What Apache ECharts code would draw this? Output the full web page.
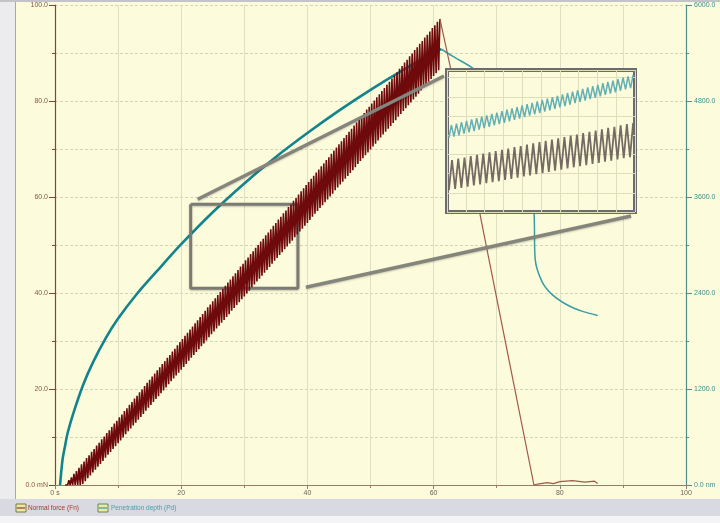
<!DOCTYPE html>
<html>
<head>
<meta charset="utf-8">
<script src="https://cdn.jsdelivr.net/npm/echarts@6/dist/echarts.min.js"></script>
<style>
  html, body { margin: 0; padding: 0; background: #fcfcdc; }
  #chart { width: 720px; height: 523px; }
</style>
</head>
<body>
<div id="chart"></div>
<script>
// Scratch test record: normal force (mN, left axis) and penetration depth (nm, right axis) over time (s)

// Loading phase of the normal force: successive extrema of the oscillating signal
const forceStart = 1.6;   // s, first extremum
const forceStep = 0.2;    // s between extrema
const forceLoading = [
  0, 0.3, 0, 1.0, 0, 1.6, 0, 2.3, 0, 2.9,
  0, 3.6, 0, 4.3, 0.2, 4.9, 0.8, 5.6, 1.4, 6.2,
  2.0, 6.9, 2.6, 7.5, 3.2, 8.2, 3.8, 8.8, 4.4, 9.5,
  5.0, 10.1, 5.7, 10.8, 6.3, 11.4, 6.9, 12.1, 7.5, 12.8,
  8.1, 13.4, 8.7, 14.1, 9.3, 14.7, 9.9, 15.4, 10.6, 16.0,
  11.2, 16.7, 11.8, 17.3, 12.4, 18.0, 13.0, 18.6, 13.6, 19.3,
  14.2, 19.9, 14.8, 20.6, 15.5, 21.3, 16.1, 21.9, 16.7, 22.6,
  17.3, 23.2, 17.9, 23.9, 18.5, 24.5, 19.1, 25.2, 19.7, 25.8,
  20.3, 26.5, 21.0, 27.1, 21.6, 27.8, 22.2, 28.4, 22.8, 29.1,
  23.4, 29.8, 24.0, 30.4, 24.6, 31.1, 25.2, 31.7, 25.9, 32.4,
  26.5, 33.0, 27.1, 33.7, 27.7, 34.3, 28.3, 35.0, 28.9, 35.6,
  29.5, 36.3, 30.1, 37.0, 30.8, 37.6, 31.4, 38.3, 32.0, 38.9,
  32.6, 39.6, 33.2, 40.2, 33.8, 40.9, 34.4, 41.5, 35.0, 42.2,
  35.6, 42.8, 36.3, 43.5, 36.9, 44.1, 37.5, 44.8, 38.1, 45.5,
  38.7, 46.1, 39.3, 46.8, 39.9, 47.4, 40.5, 48.1, 41.2, 48.7,
  41.8, 49.4, 42.4, 50.0, 43.0, 50.7, 43.6, 51.3, 44.2, 52.0,
  44.8, 52.6, 45.4, 53.3, 46.1, 54.0, 46.7, 54.6, 47.3, 55.3,
  47.9, 55.9, 48.5, 56.6, 49.1, 57.2, 49.7, 57.9, 50.3, 58.5,
  50.9, 59.2, 51.6, 59.8, 52.2, 60.5, 52.8, 61.2, 53.4, 61.8,
  54.0, 62.5, 54.6, 63.1, 55.2, 63.8, 55.9, 64.4, 56.5, 65.1,
  57.1, 65.7, 57.7, 66.4, 58.3, 67.0, 58.9, 67.7, 59.5, 68.3,
  60.1, 69.0, 60.7, 69.7, 61.4, 70.3, 62.0, 71.0, 62.6, 71.6,
  63.2, 72.3, 63.8, 72.9, 64.4, 73.6, 65.0, 74.2, 65.6, 74.9,
  66.2, 75.5, 66.9, 76.2, 67.5, 76.8, 68.1, 77.5, 68.7, 78.2,
  69.3, 78.8, 69.9, 79.5, 70.5, 80.1, 71.1, 80.8, 71.8, 81.4,
  72.4, 82.1, 73.0, 82.7, 73.6, 83.4, 74.2, 84.0, 74.8, 84.7,
  75.4, 85.3, 76.0, 86.0, 76.7, 86.7, 77.3, 87.3, 77.9, 88.0,
  78.5, 88.6, 79.1, 89.3, 79.7, 89.9, 80.3, 90.6, 80.9, 91.2,
  81.5, 91.9, 82.2, 92.5, 82.8, 93.2, 83.4, 93.8, 84.0, 94.5,
  84.6, 95.2, 85.2, 95.8, 85.8, 96.5, 86.4, 97.1
];

// Unloading of the normal force: [time s, force mN]
const forceUnloading = [
  [61.0, 97.1], [64.0, 78.9], [68.0, 52.1], [72.0, 25.7], [75.9, 0.0],
  [76.5, 0.2], [78.0, 0.5], [79.0, 0.3], [80.0, 0.7], [82.0, 0.9],
  [84.0, 0.6], [85.5, 0.8], [86.0, 0.3]
];

// Penetration depth during loading: [time s, depth nm]
const depthLoading = [
  [0.8, 0], [1.2, 320], [1.6, 490], [2.0, 650], [3.0, 920], [4.5, 1260],
  [6.0, 1530], [8.0, 1830], [10.0, 2080], [13.0, 2390], [16.0, 2660],
  [20.0, 3010], [25.0, 3410], [30.0, 3770], [35.0, 4100], [40.0, 4400],
  [45.0, 4680], [50.0, 4940], [55.0, 5180], [60.0, 5400], [61.2, 5450]
];

// Penetration depth during unloading and elastic recovery: [time s, depth nm]
const depthUnloading = [
  [61.2, 5450], [63.0, 5360], [66.4, 5200], [70.0, 4950], [73.0, 4550],
  [75.0, 3950], [75.9, 3420], [76.1, 2820], [77.2, 2540], [78.8, 2380],
  [81.2, 2250], [83.6, 2170], [86.0, 2120]
];

// Window magnified in the detail view: time span (s) and force span (mN)
const zoomTime = [21.5, 38.5];
const zoomForce = [41.0, 58.5];

// Detail view signals (relative units): alternating minima and maxima
const insetStart = 0.1;
const insetForce = [
  1.14, 2.71, 1.20, 2.78, 1.26, 2.84, 1.32, 2.91, 1.38, 2.98,
  1.44, 3.04, 1.50, 3.11, 1.56, 3.18, 1.61, 3.24, 1.67, 3.31,
  1.73, 3.38, 1.79, 3.44, 1.85, 3.51, 1.91, 3.58, 1.97, 3.64,
  2.03, 3.71, 2.09, 3.78, 2.15, 3.84, 2.21, 3.91, 2.27, 3.98,
  2.33, 4.04, 2.39, 4.11, 2.44, 4.18, 2.50, 4.24, 2.56, 4.31,
  2.62, 4.38, 2.68, 4.44, 2.74, 4.51, 2.80, 4.58, 2.86, 4.64
];
const insetDepth = [
  3.86, 4.53, 3.93, 4.60, 4.00, 4.68, 4.08, 4.75, 4.15, 4.82,
  4.22, 4.89, 4.29, 4.97, 4.37, 5.04, 4.44, 5.11, 4.51, 5.18,
  4.58, 5.26, 4.65, 5.33, 4.73, 5.40, 4.80, 5.47, 4.87, 5.55,
  4.94, 5.62, 5.02, 5.69, 5.09, 5.76, 5.16, 5.84, 5.23, 5.91,
  5.30, 5.98, 5.38, 6.05, 5.45, 6.13, 5.52, 6.20, 5.59, 6.27,
  5.67, 6.34, 5.74, 6.42, 5.81, 6.49, 5.88, 6.56, 5.95, 6.63,
  6.03, 6.71, 6.10, 6.78, 6.17, 6.85, 6.24, 6.92, 6.32, 7.00,
  6.39, 7.07, 6.46, 7.14
];
const insetSpan = 9.8;

// Tick labels
const timeTickLabels = ['0 s', '20', '40', '60', '80', '100'];
const forceTickLabels = ['0.0 mN', '20.0', '40.0', '60.0', '80.0', '100.0'];
const depthTickLabels = ['0.0 nm', '1200.0', '2400.0', '3600.0', '4800.0', '6000.0'];

// Legend entries
const legendNames = ['Normal force (Fn)', 'Penetration depth (Pd)'];

const FONT = '"Liberation Sans", Arial, sans-serif';
const chart = echarts.init(document.getElementById('chart'));

const forcePoints = forceLoading.map((v, i) => [+(forceStart + i * forceStep).toFixed(2), v]);
const insetForcePts = insetForce.map((v, i) => [insetStart + i * insetSpan / (insetForce.length - 1), v]);
const insetDepthPts = insetDepth.map((v, i) => [insetStart + i * insetSpan / (insetDepth.length - 1), v]);
const windowPath = [
  [zoomTime[0], zoomForce[1]], [zoomTime[1], zoomForce[1]],
  [zoomTime[1], zoomForce[0]], [zoomTime[0], zoomForce[0]],
  [zoomTime[0], zoomForce[1]]
];

const option = {
  animation: false,
  backgroundColor: '#fcfcdc',
  grid: [
    { left: 55, top: 5, width: 631, height: 480 },
    { left: 447, top: 70, width: 188, height: 142, show: true,
      backgroundColor: '#fcfcdc', borderColor: '#6c6c6c', borderWidth: 4, zlevel: 1 }
  ],
  xAxis: [
    {
      type: 'value', gridIndex: 0, min: 0, max: 100, interval: 20,
      axisLine: { lineStyle: { color: '#9a7a6a' } },
      axisTick: { length: 4, lineStyle: { color: '#9a7a6a' } },
      minorTick: { show: true, splitNumber: 2, length: 3, lineStyle: { color: '#9a7a6a' } },
      axisLabel: { formatter: v => timeTickLabels[Math.round(v / 20)], fontSize: 7,
                   color: '#6e6258', margin: 5, fontFamily: FONT },
      splitLine: { lineStyle: { color: '#dfdfc4', width: 1 } },
      minorSplitLine: { show: true, lineStyle: { color: '#dfdfc4', width: 1 } }
    },
    {
      type: 'value', gridIndex: 1, min: 0, max: 10, interval: 1, zlevel: 1,
      axisLine: { show: false }, axisTick: { show: false }, axisLabel: { show: false },
      splitLine: { lineStyle: { color: '#dedebc', width: 1 } }
    }
  ],
  yAxis: [
    {
      type: 'value', gridIndex: 0, position: 'left', min: 0, max: 100, interval: 20,
      axisLine: { show: true, lineStyle: { color: '#8e4034', width: 1.2 } },
      axisTick: { show: true, length: 6, lineStyle: { color: '#8e4034' } },
      minorTick: { show: true, splitNumber: 2, length: 3, lineStyle: { color: '#8e4034' } },
      axisLabel: { formatter: v => forceTickLabels[Math.round(v / 20)], fontSize: 7,
                   color: '#8b5548', margin: 7, fontFamily: FONT },
      splitLine: { lineStyle: { color: '#d4d4b8', type: [3, 2] } },
      minorSplitLine: { show: true, lineStyle: { color: '#d4d4b8', type: [3, 2] } }
    },
    {
      type: 'value', gridIndex: 0, position: 'right', min: 0, max: 6000, interval: 1200,
      axisLine: { show: true, lineStyle: { color: '#4e918a', width: 1.2 } },
      axisTick: { show: true, length: 6, lineStyle: { color: '#4e918a' } },
      minorTick: { show: true, splitNumber: 2, length: 3, lineStyle: { color: '#4e918a' } },
      axisLabel: { formatter: v => depthTickLabels[Math.round(v / 1200)], fontSize: 7,
                   color: '#3f8f8a', margin: 8, fontFamily: FONT },
      splitLine: { show: false }
    },
    {
      type: 'value', gridIndex: 1, min: 0, max: 7.4, interval: 1, zlevel: 1,
      axisLine: { show: false }, axisTick: { show: false }, axisLabel: { show: false },
      splitLine: { lineStyle: { color: '#dedebc', width: 1 } }
    }
  ],
  series: [
    {
      name: legendNames[1], type: 'line', xAxisIndex: 0, yAxisIndex: 1, data: depthLoading,
      showSymbol: false, symbol: 'none', smooth: 0.3, z: 2,
      lineStyle: { color: '#13838c', width: 2.6 }
    },
    {
      name: legendNames[1] + ' unloading', type: 'line', xAxisIndex: 0, yAxisIndex: 1, data: depthUnloading,
      showSymbol: false, symbol: 'none', smooth: 0.3, z: 2,
      lineStyle: { color: '#3b9ca2', width: 1.5 }
    },
    {
      name: 'zoom window', type: 'line', xAxisIndex: 0, yAxisIndex: 0, data: windowPath,
      showSymbol: false, symbol: 'none', z: 2, silent: true,
      lineStyle: { color: '#7b7b74', width: 3, shadowColor: 'rgba(0,0,0,0.25)', shadowBlur: 2, shadowOffsetY: 1 }
    },
    {
      name: legendNames[0], type: 'line', xAxisIndex: 0, yAxisIndex: 0, data: forcePoints,
      showSymbol: false, symbol: 'none', z: 3,
      lineStyle: { color: '#6e0a0c', width: 1.6 }
    },
    {
      name: legendNames[0] + ' unloading', type: 'line', xAxisIndex: 0, yAxisIndex: 0, data: forceUnloading,
      showSymbol: false, symbol: 'none', z: 3,
      lineStyle: { color: '#a4584a', width: 1.2 }
    },
    {
      name: 'detail depth', type: 'line', xAxisIndex: 1, yAxisIndex: 2, data: insetDepthPts,
      showSymbol: false, symbol: 'none', zlevel: 1, z: 3,
      lineStyle: { color: '#62b0b4', width: 1.5 }
    },
    {
      name: 'detail force', type: 'line', xAxisIndex: 1, yAxisIndex: 2, data: insetForcePts,
      showSymbol: false, symbol: 'none', zlevel: 1, z: 3,
      lineStyle: { color: '#776a62', width: 1.8 }
    }
  ]
};
chart.setOption(option);

// Frame, legend strip and connectors from the zoom window to the detail view
const tl = chart.convertToPixel({ gridIndex: 0 }, [zoomTime[0], zoomForce[1]]);
const br = chart.convertToPixel({ gridIndex: 0 }, [zoomTime[1], zoomForce[0]]);
const dTL = chart.convertToPixel({ gridIndex: 1 }, [0, 7.4]);
const dBR = chart.convertToPixel({ gridIndex: 1 }, [10, 0]);
const connectorStyle = { stroke: '#85857c', lineWidth: 3.5, shadowColor: 'rgba(0,0,0,0.2)', shadowBlur: 2, shadowOffsetY: 1 };

chart.setOption({
  graphic: [
    { type: 'rect', shape: { x: 0, y: 0, width: 15, height: 499 }, style: { fill: '#ececee' }, z: 1 },
    { type: 'line', shape: { x1: 15.5, y1: 0, x2: 15.5, y2: 499 }, style: { stroke: '#a8a8ac', lineWidth: 1 }, z: 1 },
    { type: 'rect', shape: { x: 0, y: 0, width: 720, height: 2 }, style: { fill: '#c4c4c8' }, z: 1 },
    { type: 'rect', shape: { x: 0, y: 499, width: 720, height: 17 }, style: { fill: '#d9d9e1' }, z: 1 },
    { type: 'rect', shape: { x: 0, y: 516, width: 720, height: 7 }, style: { fill: '#f4f4f6' }, z: 1 },
    // legend icons and labels
    { type: 'rect', shape: { x: 16, y: 504, width: 10, height: 8 }, style: { fill: '#ebe9a6', stroke: '#7d7a3c', lineWidth: 1 }, z: 2 },
    { type: 'line', shape: { x1: 17, y1: 508, x2: 25, y2: 508 }, style: { stroke: '#8a3a2a', lineWidth: 1.2 }, z: 3 },
    { type: 'text', x: 28, y: 508.5, style: { text: legendNames[0], fill: '#9c3a2c', fontSize: 6.5, fontFamily: FONT, verticalAlign: 'middle' }, z: 3 },
    { type: 'rect', shape: { x: 98, y: 504, width: 10, height: 8 }, style: { fill: '#ebe9a6', stroke: '#5e8a50', lineWidth: 1 }, z: 2 },
    { type: 'line', shape: { x1: 99, y1: 508, x2: 107, y2: 508 }, style: { stroke: '#3a9aa0', lineWidth: 1.2 }, z: 3 },
    { type: 'text', x: 111, y: 508.5, style: { text: legendNames[1], fill: '#4aa0a8', fontSize: 6.5, fontFamily: FONT, verticalAlign: 'middle' }, z: 3 },
    // connectors
    { type: 'line', shape: { x1: tl[0] + 7, y1: tl[1] - 5, x2: dTL[0] - 3, y2: dTL[1] + 6 }, style: connectorStyle, z: 50 },
    { type: 'line', shape: { x1: br[0] + 8, y1: br[1] - 1, x2: dBR[0] - 4, y2: dBR[1] + 4 }, style: connectorStyle, z: 50 }
  ]
});
</script>
</body>
</html>
